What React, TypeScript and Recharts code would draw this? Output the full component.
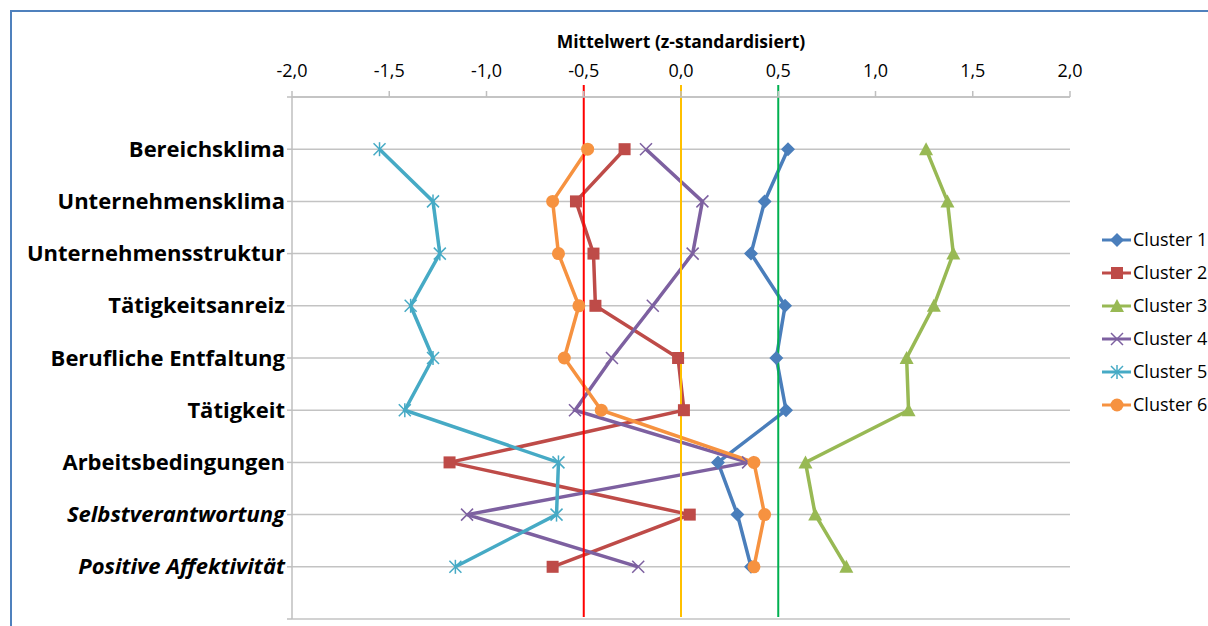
import React from 'react';
import { LineChart, Line, XAxis, YAxis, CartesianGrid, ReferenceLine } from 'recharts';

const categories = [
    'Bereichsklima',
    'Unternehmensklima',
    'Unternehmensstruktur',
    'Tätigkeitsanreiz',
    'Berufliche Entfaltung',
    'Tätigkeit',
    'Arbeitsbedingungen',
    'Selbstverantwortung',
    'Positive Affektivität',
];
const italicCategories = ['Selbstverantwortung', 'Positive Affektivität'];

const cluster1 = [0.55, 0.43, 0.36, 0.535, 0.49, 0.54, 0.19, 0.29, 0.36];
const cluster2 = [-0.29, -0.54, -0.45, -0.44, -0.015, 0.015, -1.19, 0.045, -0.66];
const cluster3 = [1.26, 1.37, 1.4, 1.3, 1.16, 1.17, 0.64, 0.69, 0.85];
const cluster4 = [-0.18, 0.11, 0.06, -0.145, -0.355, -0.545, 0.345, -1.1, -0.22];
const cluster5 = [-1.55, -1.275, -1.24, -1.39, -1.275, -1.42, -0.63, -0.64, -1.16];
const cluster6 = [-0.48, -0.66, -0.63, -0.525, -0.6, -0.41, 0.375, 0.43, 0.375];

const xTicks = [-2, -1.5, -1, -0.5, 0, 0.5, 1, 1.5, 2];
const yTicks = [0, 1, 2, 3, 4, 5, 6, 7, 8, 9, 10];

// vertical marker lines at -0.5 / 0 / 0.5
const thresholds = [-0.5, 0, 0.5];
const thresholdColors = ['#FF0000', '#FFC000', '#00B050'];

type Shape = 'diamond' | 'square' | 'triangle' | 'x' | 'star' | 'circle';

const series: { key: string; name: string; color: string; shape: Shape; values: number[] }[] = [
    { key: 'c1', name: 'Cluster 1', color: '#4A7EBB', shape: 'diamond', values: cluster1 },
    { key: 'c2', name: 'Cluster 2', color: '#BE4B48', shape: 'square', values: cluster2 },
    { key: 'c3', name: 'Cluster 3', color: '#98B954', shape: 'triangle', values: cluster3 },
    { key: 'c4', name: 'Cluster 4', color: '#7D60A0', shape: 'x', values: cluster4 },
    { key: 'c5', name: 'Cluster 5', color: '#46AAC5', shape: 'star', values: cluster5 },
    { key: 'c6', name: 'Cluster 6', color: '#F69240', shape: 'circle', values: cluster6 },
];

const data = categories.map((name, i) => {
    const row: Record<string, number | string> = { idx: i + 1, name };
    series.forEach(s => {
        row[s.key] = s.values[i];
    });
    return row;
});

const FONT = '"Open Sans", Lato, sans-serif';

const renderMarker = (shape: Shape, color: string, cx: number, cy: number, key?: string | number) => {
    switch (shape) {
        case 'diamond':
            return <polygon key={key} points={`${cx},${cy - 7} ${cx + 7},${cy} ${cx},${cy + 7} ${cx - 7},${cy}`} fill={color} />;
        case 'square':
            return <rect key={key} x={cx - 6} y={cy - 6} width={12} height={12} fill={color} />;
        case 'triangle':
            return <polygon key={key} points={`${cx},${cy - 7} ${cx + 7},${cy + 6} ${cx - 7},${cy + 6}`} fill={color} />;
        case 'x':
            return (
                <g key={key} stroke={color} strokeWidth={1.5}>
                    <line x1={cx - 6} y1={cy - 6} x2={cx + 6} y2={cy + 6} />
                    <line x1={cx - 6} y1={cy + 6} x2={cx + 6} y2={cy - 6} />
                </g>
            );
        case 'star':
            return (
                <g key={key} stroke={color} strokeWidth={1.5}>
                    <line x1={cx - 6} y1={cy - 6} x2={cx + 6} y2={cy + 6} />
                    <line x1={cx - 6} y1={cy + 6} x2={cx + 6} y2={cy - 6} />
                    <line x1={cx} y1={cy - 7} x2={cx} y2={cy + 7} />
                </g>
            );
        default:
            return <circle key={key} cx={cx} cy={cy} r={6.5} fill={color} />;
    }
};

const makeDot = (shape: Shape, color: string) => (props: any) => {
    const { cx, cy, index } = props;
    if (cx == null || cy == null) return <g key={`e-${index}`} />;
    return renderMarker(shape, color, cx, cy, `d-${index}`);
};

const CategoryTick = (props: any) => {
    const { x, y, payload } = props;
    const label = categories[payload.value - 1];
    if (!label) return <g />;
    const italic = italicCategories.includes(label);
    return (
        <text
            x={x}
            y={y}
            dy={7.5}
            textAnchor="end"
            fontFamily={FONT}
            fontWeight="bold"
            fontStyle={italic ? 'italic' : 'normal'}
            fontSize={22}
            fill="#000"
        >
            {label}
        </text>
    );
};

const fmt = (v: number) => v.toFixed(1).replace('.', ',');

const App: React.FC = () => {
    return (
        <div style={{ position: 'absolute', left: 0, top: 0, width: 1208, height: 626, overflow: 'hidden', background: '#fff' }}>
            <div
                style={{
                    position: 'absolute',
                    left: 10,
                    top: 10,
                    width: 1220,
                    height: 640,
                    borderLeft: '2px solid #4F81BD',
                    borderTop: '2px solid #4F81BD',
                }}
            />
            <div style={{ position: 'absolute', left: 0, top: 0 }}>
                <LineChart
                    width={1208}
                    height={626}
                    data={data}
                    layout="vertical"
                    margin={{ top: 57, right: 138, bottom: 7, left: 0 }}
                >
                    <CartesianGrid vertical={false} stroke="#C3C3C3" strokeWidth={1.5} />
                    <XAxis
                        type="number"
                        orientation="top"
                        domain={[-2, 2]}
                        ticks={xTicks}
                        tickFormatter={fmt}
                        height={40}
                        tickSize={6}
                        tickMargin={14}
                        stroke="#BFBFBF"
                        strokeWidth={1.5}
                        tick={{ fill: '#000', fontSize: 18, fontFamily: FONT }}
                        allowDataOverflow
                        label={{
                            value: 'Mittelwert (z-standardisiert)',
                            position: 'top',
                            offset: 9,
                            fill: '#000',
                            fontSize: 17.5,
                            fontWeight: 'bold',
                            fontFamily: FONT,
                        }}
                    />
                    <YAxis
                        type="number"
                        dataKey="idx"
                        domain={[0, 10]}
                        ticks={yTicks}
                        interval={0}
                        width={292}
                        tickSize={5}
                        tickMargin={2}
                        stroke="#BFBFBF"
                        strokeWidth={1.5}
                        tick={<CategoryTick />}
                    />
                    {series.map(s => (
                        <Line
                            key={s.key}
                            dataKey={s.key}
                            name={s.name}
                            stroke={s.color}
                            strokeWidth={3.5}
                            dot={makeDot(s.shape, s.color)}
                            activeDot={false}
                            isAnimationActive={false}
                        />
                    ))}
                    {thresholds.map((t, i) => (
                        <ReferenceLine
                            key={`t-${i}`}
                            segment={[{ x: t, y: -0.23 }, { x: t, y: 9.96 }]}
                            ifOverflow="visible"
                            stroke={thresholdColors[i]}
                            strokeWidth={2}
                        />
                    ))}
                </LineChart>
            </div>
            <div style={{ position: 'absolute', left: 1100, top: 223, fontFamily: FONT, fontSize: 18, color: '#000' }}>
                {series.map(s => (
                    <div key={s.key} style={{ display: 'flex', alignItems: 'center', height: 33 }}>
                        <svg width={33} height={16} style={{ display: 'block' }}>
                            <line x1={2} y1={8} x2={31} y2={8} stroke={s.color} strokeWidth={3} />
                            {renderMarker(s.shape, s.color, 17, 8)}
                        </svg>
                        <span style={{ marginLeft: 0, lineHeight: '33px' }}>{s.name}</span>
                    </div>
                ))}
            </div>
        </div>
    );
};

export default App;
